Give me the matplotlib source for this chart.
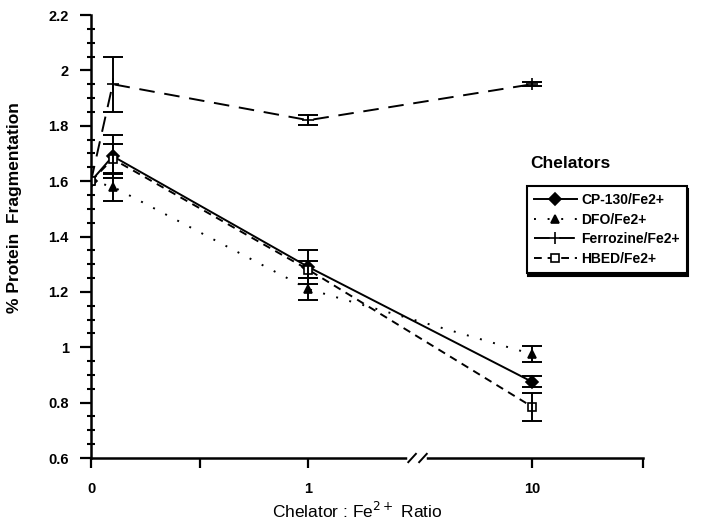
import matplotlib.pyplot as plt
import numpy as np

plt.rcParams['font.family'] = ['Liberation Sans', 'DejaVu Sans']

ratios = [0, 0.1, 1, 10]
series = ["CP-130/Fe2+", "DFO/Fe2+", "Ferrozine/Fe2+", "HBED/Fe2+"]
cp130 = [1.60, 1.69, 1.29, 0.875]
cp130_err = [0.0, 0.078, 0.06, 0.02]
dfo = [1.60, 1.58, 1.21, 0.975]
dfo_err = [0.0, 0.05, 0.04, 0.03]
ferrozine = [1.60, 1.95, 1.82, 1.95]
ferrozine_err = [0.0, 0.10, 0.018, 0.008]
hbed = [1.60, 1.68, 1.28, 0.785]
hbed_err = [0.0, 0.055, 0.03, 0.05]


def xpos(r):
    # broken axis: linear 0..1, then 10 sits after the break
    return r if r <= 1 else 2.03


xs = [xpos(r) for r in ratios]

fig = plt.figure(figsize=(7.02, 5.25), dpi=100)
ax = fig.add_axes([91 / 702, 1 - 458 / 525, (643 - 91) / 702, (458 - 15) / 525])

styles = [
    dict(ls="-", marker="D", ms=6, mfc="black", dashes=None),
    dict(ls=":", marker="^", ms=6, mfc="black", dashes=(1, 6)),
    dict(ls="--", marker="+", ms=8, mfc="black", dashes=(8, 5)),
    dict(ls="--", marker="s", ms=6, mfc="white", dashes=(4, 3)),
]
vals = [cp130, dfo, ferrozine, hbed]
errs = [cp130_err, dfo_err, ferrozine_err, hbed_err]

for name, y, e, st in zip(series, vals, errs, styles):
    kw = dict(color="black", lw=1.4, marker=st["marker"], ms=st["ms"],
              mfc=st["mfc"], mec="black", mew=1.2)
    line, = ax.plot(xs, y, ls=st["ls"], label=name, **kw)
    if st["dashes"] is not None:
        line.set_dashes(st["dashes"])
    ax.errorbar(xs[1:], y[1:], yerr=e[1:], fmt="none", ecolor="black",
                elinewidth=1.4, capsize=7, capthick=1.4)

ax.set_xlim(0, 2.54)
ax.set_ylim(0.6, 2.2)
ax.set_yticks(np.arange(0.6, 2.21, 0.2))
ax.set_yticks(np.arange(0.6, 2.21, 0.05), minor=True)
ax.set_yticklabels(["0.6", "0.8", "1", "1.2", "1.4", "1.6", "1.8", "2", "2.2"],
                   fontweight="bold", fontsize=10.5)
ax.set_xticks([0, 0.5, 1, 2.03, 2.54])
ax.set_xticklabels(["0", "", "1", "10", ""], fontweight="bold", fontsize=10.5)
ax.tick_params(axis="y", which="major", direction="out", length=8, width=1.6, pad=8)
ax.tick_params(axis="y", which="minor", direction="inout", length=6, width=1.5)
ax.tick_params(axis="x", direction="out", length=7, width=1.6, pad=10)

for s in ["top", "right"]:
    ax.spines[s].set_visible(False)
ax.spines["left"].set_linewidth(1.8)
ax.spines["bottom"].set_linewidth(1.8)

# axis break marks
ax.plot([1.47, 1.53], [0.6, 0.6], color="white", lw=4, clip_on=False, zorder=5)
for bx in [1.46, 1.51]:
    ax.plot([bx, bx + 0.035], [0.585, 0.615], color="black", lw=1.4,
            clip_on=False, zorder=6)

fig.text(357 / 702, 1 - 511 / 525, "Chelator : Fe$^{2+}$ Ratio", fontsize=12.5,
         ha="center", va="center")
fig.text(15 / 702, 1 - 208 / 525, "% Protein  Fragmentation", rotation=90,
         ha="center", va="center", fontsize=12.5, fontweight="bold")

fig.text(530 / 702, 1 - 163 / 525, "Chelators", fontsize=12.5,
         fontweight="bold", va="center")
leg = fig.legend(loc="upper left", bbox_to_anchor=(527 / 702, 1 - 186 / 525),
                 frameon=True, fancybox=False,
                 shadow={"ox": 1, "oy": -2.5, "color": "black", "alpha": 1},
                 fontsize=10, handlelength=3.1, labelspacing=0.4,
                 borderpad=0.5, handletextpad=0.3, borderaxespad=0)
leg.get_frame().set_edgecolor("black")
leg.get_frame().set_linewidth(1.5)
for t in leg.get_texts():
    t.set_fontweight("bold")

fig.savefig("out.png", dpi=100)
